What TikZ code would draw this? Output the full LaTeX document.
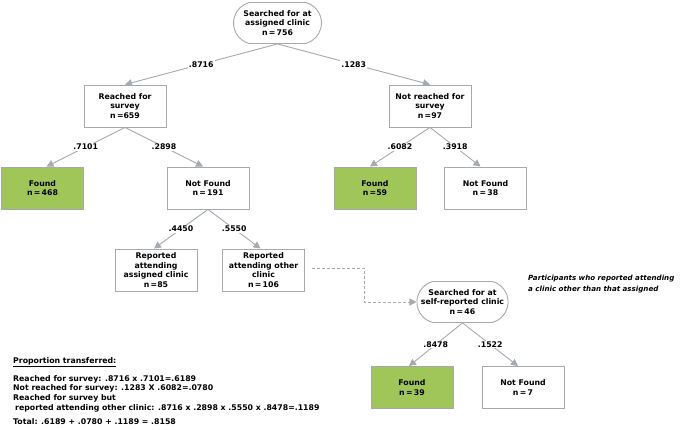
\documentclass[tikz,border=0pt]{standalone}
\usepackage{fontspec}
\setmainfont{DejaVu Sans}
\usetikzlibrary{arrows.meta,shapes.misc}
\definecolor{boxgray}{RGB}{165,170,175}
\definecolor{arrgray}{RGB}{165,170,175}
\definecolor{foundgreen}{RGB}{160,198,90}
\tikzset{
  base/.style={draw=boxgray, line width=0.9pt, align=center, inner sep=1pt,
    font=\fontsize{7.8}{9.4}\selectfont\bfseries},
  box/.style={base, rectangle, minimum width=82pt, minimum height=42pt},
  foundbox/.style={box, fill=foundgreen},
  roundbox/.style={base, rounded rectangle, rounded rectangle arc length=150, inner xsep=0pt, minimum width=88pt, minimum height=41pt},
  conn/.style={draw=arrgray, line width=0.9pt, -{Triangle[length=7pt,width=7pt]}},
  dconn/.style={conn, dashed, dash pattern=on 3pt off 2pt},
  lbl/.style={fill=white, inner sep=1pt, font=\fontsize{7.8}{9}\selectfont\bfseries},
  txt/.style={anchor=west, align=left, inner sep=0pt, font=\fontsize{7.8}{9.8}\selectfont\bfseries}
}
\begin{document}
\begin{tikzpicture}[x=1pt,y=-1pt]
\useasboundingbox (0,0) rectangle (683,430);
\node[roundbox] (top) at (277.5,23) {Searched for at\\assigned clinic\\n\,=\,756};
\node[box] (reach) at (125,106) {Reached for\\survey\\n\,=659};
\node[box] (nreach) at (430,106) {Not reached for\\survey\\n\,=97};
\node[foundbox] (f468) at (42.5,188) {Found\\n\,=\,468};
\node[box] (nf191) at (208,188) {Not Found\\n\,=\,191};
\node[foundbox] (f59) at (375,188) {Found\\n\,=59};
\node[box] (nf38) at (485.5,188) {Not Found\\n\,=\,38};
\node[box] (rassig) at (156,270) {Reported\\attending\\assigned clinic\\n\,=85};
\node[box] (rother) at (263.5,270) {Reported\\attending other\\clinic\\n\,=\,106};
\node[roundbox] (self) at (462.5,302) {Searched for at\\self-reported clinic\\n\,=\,46};
\node[foundbox] (f39) at (412,387.5) {Found\\n\,=\,39};
\node[box] (nf7) at (523,387.5) {Not Found\\n\,=\,7};

\draw[conn] (top.south) -- node[lbl]{.8716} (reach.north);
\draw[conn] (top.south) -- node[lbl]{.1283} (nreach.north);
\draw[conn] (reach.south) -- node[lbl]{.7101} ([xshift=4pt]f468.north);
\draw[conn] (reach.south) -- node[lbl]{.2898} ([xshift=-5pt]nf191.north);
\draw[conn] (nreach.south) -- node[lbl]{.6082} ([xshift=-5pt]f59.north);
\draw[conn] (nreach.south) -- node[lbl]{.3918} ([xshift=-5pt]nf38.north);
\draw[conn] (nf191.south) -- node[lbl]{.4450} ([xshift=-2pt]rassig.north);
\draw[conn] (nf191.south) -- node[lbl]{.5550} ([xshift=-3pt]rother.north);
\draw[conn] (self.south) -- node[lbl]{.8478} ([xshift=-3pt]f39.north);
\draw[conn] (self.south) -- node[lbl]{.1522} ([xshift=-5pt]nf7.north);

\coordinate (d1) at (364,268);
\draw[dconn] ([xshift=7pt]rother.east |- d1) -- (d1) |- (self.west);

\node[txt, font=\fontsize{7.1}{10.5}\selectfont\bfseries\itshape] (note) at (528,284)
  {Participants who reported attending\\a clinic other than that assigned};

\node[txt] (ptitle) at (13,362) {\underline{Proportion transferred:}};
\node[txt, anchor=north west] (plines) at (13,375)
  {Reached for survey: .8716 x .7101=.6189\\
   Not reached for survey: .1283 X .6082=.0780\\
   Reached for survey but\\
   \hspace{2pt}reported attending other clinic: .8716 x .2898 x .5550 x .8478=.1189};
\node[txt] (ptotal) at (13,422) {Total: .6189 + .0780 + .1189 = .8158};
\end{tikzpicture}
\end{document}
